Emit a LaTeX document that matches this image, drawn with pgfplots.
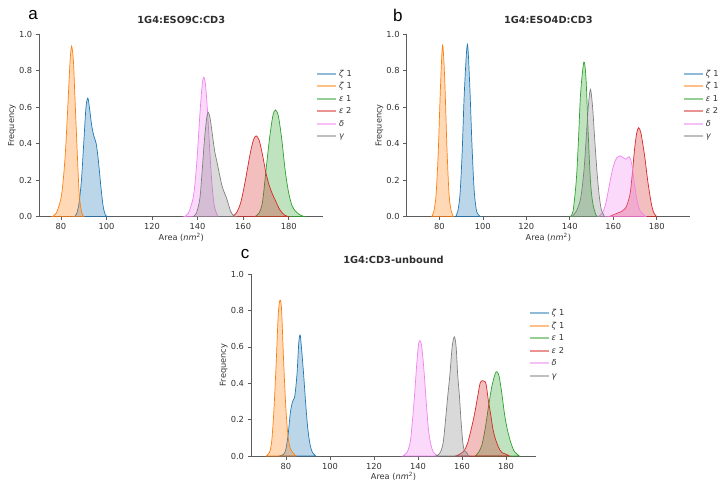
\documentclass[border=0pt]{standalone}
\usepackage{pgfplots}
\pgfplotsset{compat=1.18}
\usepackage{fontspec}
\setmainfont{DejaVu Sans}
\newfontfamily\labfont{Liberation Sans}
\definecolor{c0}{HTML}{1F77B4}
\definecolor{c1}{HTML}{FF7F0E}
\definecolor{c2}{HTML}{2CA02C}
\definecolor{c3}{HTML}{D62728}
\definecolor{c4}{HTML}{EE82EE}
\definecolor{c5}{HTML}{808080}
\definecolor{txt}{HTML}{333333}
\pgfplotsset{
  panel/.style={
    scale only axis,
    clip mode=individual,
    axis lines=left,
    axis line style={-, draw=txt!80, line width=0.7pt},
    tick align=outside,
    major tick length=3.5pt,
    tick style={draw=txt!80, line width=0.6pt},
    ymin=0, ymax=1,
    ytick={0,0.2,...,1.0},
    xtick={80,100,...,180},
    /pgf/number format/assume math mode=true,
    yticklabel style={/pgf/number format/.cd, fixed, fixed zerofill, precision=1},
    tick label style={font=\fontsize{8.3}{9}\selectfont, color=txt},
    label style={font=\fontsize{8.2}{9}\selectfont, color=txt},
    xlabel={Area (\textit{nm}\textsuperscript{2})},
    ylabel={Frequency},
    xlabel style={at={(axis description cs:0.5,-0.114)}, anchor=center},
    ylabel style={at={(axis description cs:-0.096,0.5)}, anchor=center, rotate=0},
    title style={font=\bfseries\fontsize{9.8}{10}\selectfont, color=txt!90!black, at={(axis description cs:0.5,1.045)}, anchor=center},
    legend image code/.code={\draw[#1, line width=1.8pt, opacity=0.5] (0pt,0pt) -- (19pt,0pt);},
    legend cell align=left,
    legend style={draw=none, fill=none, font=\fontsize{8.2}{9}\selectfont, text=txt,
      at={(rel axis cs:0.964,0.83)}, anchor=north west,
      row sep=0pt, nodes={inner sep=2pt, text height=6.5pt, text depth=2pt}},
  },
  kde/.style={#1, line width=0.7pt, fill=#1, fill opacity=0.3, smooth, tension=0.5},
}
\newcommand{\legendentries}{%
  \addlegendimage{c0}\addlegendentry{\textit{ζ} 1}
  \addlegendimage{c1}\addlegendentry{\textit{ζ} 1}
  \addlegendimage{c2}\addlegendentry{\textit{ε} 1}
  \addlegendimage{c3}\addlegendentry{\textit{ε} 2}
  \addlegendimage{c4}\addlegendentry{\textit{δ}}
  \addlegendimage{c5}\addlegendentry{\textit{γ}}
}
\begin{document}
\begin{tikzpicture}[x=1pt,y=1pt]
\useasboundingbox (0,0) rectangle (723,490);
% ---------------- panel a
\begin{axis}[panel, at={(39.3pt,273.3pt)}, anchor=south west,
  width=284pt, height=182.4pt, xmin=70.5, xmax=195.2,
  title={1G4:ESO9C:CD3}]
\legendentries
\addplot[kde=c0, forget plot] coordinates {(86,0) (87,0.02) (88,0.08) (89,0.2) (90,0.4) (91,0.6) (91.8,0.65) (92.5,0.6) (93.5,0.5) (94.5,0.44) (95.5,0.4) (96.5,0.3) (97.5,0.17) (98.5,0.06) (99.5,0.01) (100.5,0)} \closedcycle;
\addplot[kde=c1, forget plot] coordinates {(76,0) (78,0.02) (80,0.1) (81,0.2) (82,0.36) (83,0.6) (84,0.85) (84.7,0.935) (85.5,0.85) (86,0.7) (87,0.4) (88,0.13) (89,0.03) (90,0)} \closedcycle;
\addplot[kde=c2, forget plot] coordinates {(165,0) (167,0.02) (168.5,0.08) (170,0.25) (171.5,0.42) (173,0.55) (174.2,0.585) (175.5,0.55) (177,0.42) (178.5,0.25) (180,0.13) (181.5,0.06) (183,0.03) (185,0.01) (187,0)} \closedcycle;
\addplot[kde=c3, forget plot] coordinates {(155,0) (157,0.02) (159,0.08) (161,0.2) (163,0.34) (164.5,0.42) (165.7,0.443) (167,0.42) (168.5,0.34) (170,0.24) (171.5,0.17) (173,0.12) (174.5,0.08) (176,0.04) (178,0.01) (180,0)} \closedcycle;
\addplot[kde=c4, forget plot] coordinates {(134,0) (136,0.02) (138,0.1) (139,0.2) (140,0.36) (141,0.56) (142,0.72) (142.7,0.765) (143.5,0.72) (144.5,0.55) (145.5,0.33) (146.5,0.15) (147.5,0.05) (149,0)} \closedcycle;
\addplot[kde=c5, forget plot] coordinates {(138,0) (139.5,0.02) (141,0.1) (142,0.25) (143,0.42) (144,0.54) (144.7,0.572) (145.5,0.54) (146.5,0.45) (147.5,0.36) (148.5,0.3) (149.5,0.24) (150.5,0.18) (151.5,0.14) (152.5,0.11) (153.5,0.07) (154.5,0.03) (155.5,0.01) (157,0)} \closedcycle;
\node[font=\labfont\fontsize{17}{17}\selectfont, text=black] at (axis description cs:-0.022,1.106) {a};
\end{axis}
% ---------------- panel b
\begin{axis}[panel, at={(406.7pt,273.3pt)}, anchor=south west,
  width=283.3pt, height=182.4pt, xmin=65, xmax=195.3,
  title={1G4:ESO4D:CD3}]
\legendentries
\addplot[kde=c0, forget plot] coordinates {(87.5,0) (88.5,0.03) (89.5,0.12) (90.5,0.35) (91.5,0.68) (92.9,0.945) (94,0.72) (95,0.4) (96,0.15) (97,0.04) (98,0.01) (99,0)} \closedcycle;
\addplot[kde=c1, forget plot] coordinates {(76.5,0) (77.5,0.03) (78.5,0.12) (79.5,0.35) (80.5,0.7) (81.5,0.94) (82.5,0.75) (83.5,0.38) (84.5,0.12) (85.5,0.03) (86.5,0)} \closedcycle;
\addplot[kde=c2, forget plot] coordinates {(140,0) (141.5,0.03) (143,0.2) (144,0.42) (145,0.68) (146.5,0.848) (147.5,0.75) (148.5,0.45) (149.5,0.2) (150.5,0.08) (152,0.01) (153,0)} \closedcycle;
\addplot[kde=c3, forget plot] coordinates {(158,0) (160,0.01) (162,0.02) (164,0.03) (165.5,0.045) (166.5,0.07) (167.8,0.13) (168.8,0.24) (169.8,0.37) (170.8,0.46) (171.7,0.488) (172.7,0.46) (173.7,0.39) (174.7,0.31) (175.7,0.21) (176.7,0.13) (177.7,0.06) (178.7,0.02) (180,0)} \closedcycle;
\addplot[kde=c4, forget plot] coordinates {(153,0) (155,0.02) (156.5,0.07) (158,0.16) (159.5,0.25) (161,0.31) (162.3,0.33) (163.3,0.334) (164.5,0.325) (165.8,0.315) (166.8,0.325) (167.5,0.327) (168.5,0.29) (169.5,0.2) (170.5,0.12) (171.5,0.06) (172.5,0.03) (174,0.01) (175,0)} \closedcycle;
\addplot[kde=c5, forget plot] coordinates {(141,0) (143,0.03) (145,0.1) (146.5,0.25) (147.5,0.42) (148.5,0.6) (149.5,0.698) (150.5,0.6) (151.5,0.42) (152.5,0.25) (153.5,0.12) (154.5,0.04) (156,0)} \closedcycle;
\node[font=\labfont\fontsize{17}{17}\selectfont, text=black] at (axis description cs:-0.031,1.106) {b};
\end{axis}
% ---------------- panel c
\begin{axis}[panel, at={(251pt,34pt)}, anchor=south west,
  width=285pt, height=182pt, xmin=64.1, xmax=193.6,
  title={1G4:CD3-unbound}]
\legendentries
\addplot[kde=c0, forget plot] coordinates {(77,0) (79,0.01) (80,0.04) (81,0.12) (82,0.24) (83,0.3) (84,0.33) (85,0.45) (85.8,0.62) (86.4,0.665) (87,0.6) (88,0.45) (89,0.28) (90,0.14) (91,0.06) (92,0.02) (93.5,0)} \closedcycle;
\addplot[kde=c1, forget plot] coordinates {(71,0) (72.5,0.02) (73.5,0.08) (74.5,0.25) (75.5,0.5) (76.5,0.78) (77.3,0.857) (78,0.8) (79,0.5) (80,0.25) (81,0.1) (82,0.04) (83,0.02) (84.5,0)} \closedcycle;
\addplot[kde=c2, forget plot] coordinates {(166,0) (167.5,0.02) (169,0.06) (170.5,0.15) (172,0.27) (173.5,0.38) (175,0.45) (175.8,0.463) (176.8,0.44) (178,0.35) (179.3,0.23) (180.5,0.15) (182,0.08) (183.5,0.03) (185,0.01) (186,0)} \closedcycle;
\addplot[kde=c3, forget plot] coordinates {(157,0) (159,0.01) (161,0.03) (162.5,0.07) (164,0.14) (165.5,0.22) (167,0.32) (168.2,0.4) (169.2,0.414) (170.3,0.41) (171,0.39) (172,0.3) (173,0.23) (174,0.15) (175,0.1) (176.5,0.05) (178,0.02) (180,0.01) (181.5,0)} \closedcycle;
\addplot[kde=c4, forget plot] coordinates {(133,0) (135,0.02) (136.5,0.08) (137.5,0.2) (138.5,0.35) (139.5,0.52) (140.3,0.62) (140.9,0.634) (141.7,0.6) (142.7,0.47) (143.7,0.3) (144.7,0.15) (145.7,0.07) (147,0.02) (149,0)} \closedcycle;
\addplot[kde=c5, forget plot] coordinates {(148,0) (149.5,0.01) (150.5,0.03) (151.5,0.08) (152.5,0.2) (153.5,0.33) (154.5,0.45) (155.5,0.6) (156.5,0.655) (157.3,0.6) (158,0.45) (158.8,0.33) (159.5,0.2) (160.3,0.08) (161,0.03) (162,0.02) (163,0)} \closedcycle;
\node[font=\labfont\fontsize{17}{17}\selectfont, text=black] at (axis description cs:-0.021,1.11) {c};
\end{axis}
\end{tikzpicture}
\end{document}
